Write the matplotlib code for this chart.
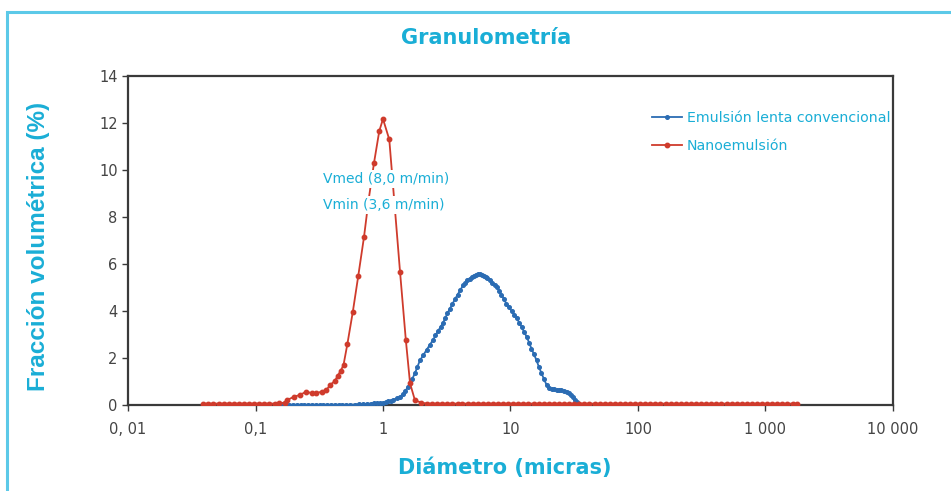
import matplotlib.pyplot as plt
from matplotlib.patches import Rectangle
import matplotlib.ticker as ticker

cyan = "#1aaed6"
blue = "#2b6cb3"
red = "#cf3b2c"

# Nanoemulsion (red)
nano_x = [0.039, 0.0427, 0.0468, 0.0513, 0.0563, 0.0617, 0.0676, 0.0741, 0.0812, 0.089,
          0.0976, 0.107, 0.117, 0.128, 0.141, 0.154,
          0.169, 0.176, 0.20, 0.224, 0.25, 0.276, 0.30, 0.33, 0.36, 0.385, 0.42, 0.44,
          0.465, 0.49, 0.525, 0.58, 0.64, 0.71, 0.77, 0.85, 0.935, 1.0, 1.12, 1.36,
          1.51, 1.63, 1.78, 2.0,
          2.21, 2.42, 2.66, 2.91, 3.19, 3.50, 3.84, 4.20, 4.61, 5.05, 5.54, 6.07, 6.65,
          7.29, 7.99, 8.76, 9.60, 10.5, 11.5, 12.6, 13.8, 15.2, 16.6, 18.2, 20.0, 21.9,
          24.0, 26.3, 28.8, 31.6, 34.6, 37.9, 41.6, 45.6, 50.0, 54.8, 60.0, 65.8, 72.1,
          79.0, 86.6, 94.9, 104, 114, 125, 137, 150, 165, 180, 198, 217, 237, 260, 285,
          313, 343, 376, 412, 451, 495, 542, 594, 651, 714, 782, 857, 940, 1030, 1130,
          1240, 1350, 1480, 1630, 1780]
nano_y = [0.06, 0.06, 0.06, 0.06, 0.06, 0.06, 0.06, 0.06, 0.06, 0.06,
          0.06, 0.06, 0.06, 0.06, 0.06, 0.07,
          0.1, 0.2, 0.35, 0.43, 0.57, 0.5, 0.5, 0.57, 0.64, 0.85, 1.03, 1.23,
          1.45, 1.7, 2.58, 3.97, 5.5, 7.16, 8.7, 10.3, 11.66, 12.17, 11.3, 5.67,
          2.77, 0.92, 0.2, 0.1,
          0.06, 0.06, 0.06, 0.06, 0.06, 0.06, 0.06, 0.06, 0.06, 0.06, 0.06, 0.06, 0.06,
          0.06, 0.06, 0.06, 0.06, 0.06, 0.06, 0.06, 0.06, 0.06, 0.06, 0.06, 0.06, 0.06,
          0.06, 0.06, 0.06, 0.06, 0.06, 0.06, 0.06, 0.06, 0.06, 0.06, 0.06, 0.06, 0.06,
          0.06, 0.06, 0.06, 0.06, 0.06, 0.06, 0.06, 0.06, 0.06, 0.06, 0.06, 0.06, 0.06, 0.06, 0.06,
          0.06, 0.06, 0.06, 0.06, 0.06, 0.06, 0.06, 0.06, 0.06, 0.06, 0.06, 0.06, 0.06, 0.06, 0.06,
          0.06, 0.06, 0.06, 0.06, 0.06]

# Conventional slow emulsion (blue)
conv_x = [0.16, 0.172, 0.184, 0.197, 0.211, 0.226, 0.242, 0.259, 0.277, 0.297, 0.318,
          0.34, 0.364, 0.39, 0.418, 0.448, 0.48, 0.514, 0.55, 0.6, 0.65, 0.7, 0.75, 0.8,
          0.85, 0.9, 0.95, 1.0, 1.05, 1.1, 1.15, 1.2, 1.28, 1.36, 1.43, 1.5, 1.56, 1.63,
          1.7, 1.78, 1.86, 1.95, 2.07, 2.2, 2.33, 2.47, 2.58, 2.7, 2.83, 2.96, 3.08, 3.2,
          3.35, 3.5, 3.67, 3.85, 4.05, 4.25, 4.42, 4.6, 4.8, 5.0, 5.17, 5.35, 5.55, 5.75,
          5.97, 6.2, 6.4, 6.6, 6.9, 7.2, 7.5, 7.8, 8.15, 8.5, 8.9, 9.3, 9.75, 10.2, 10.7,
          11.2, 11.7, 12.3, 12.8, 13.4, 14.0, 14.6, 15.3, 16.0, 16.7, 17.5, 18.3, 19.2,
          20.1, 21.0, 22.0, 23.0, 24.0, 25.0, 26.2, 27.5, 28.7, 30.0, 31.0, 32.0, 33.0, 34.0]
conv_y = [0.01, 0.01, 0.01, 0.01, 0.01, 0.01, 0.01, 0.01, 0.01, 0.01, 0.01,
          0.01, 0.01, 0.01, 0.01, 0.01, 0.01, 0.01, 0.01, 0.02, 0.03, 0.04, 0.05, 0.06,
          0.07, 0.08, 0.09, 0.1, 0.12, 0.15, 0.18, 0.22, 0.28, 0.35, 0.46, 0.6, 0.75, 0.92,
          1.12, 1.35, 1.62, 1.9, 2.12, 2.35, 2.56, 2.77, 2.96, 3.15, 3.32, 3.5, 3.7, 3.9,
          4.1, 4.3, 4.5, 4.7, 4.9, 5.1, 5.2, 5.3, 5.38, 5.46, 5.51, 5.55, 5.57, 5.57,
          5.54, 5.5, 5.45, 5.4, 5.3, 5.2, 5.12, 5.03, 4.87, 4.7, 4.5, 4.3, 4.15, 4.0, 3.85,
          3.7, 3.5, 3.3, 3.1, 2.9, 2.65, 2.4, 2.15, 1.9, 1.62, 1.35, 1.1, 0.85,
          0.74, 0.68, 0.66, 0.64, 0.63, 0.62, 0.6, 0.57, 0.52, 0.42, 0.33, 0.2, 0.12, 0.05]

x_ticks = [0.01, 0.1, 1, 10, 100, 1000, 10000]
x_ticklabels = ["0, 01", "0,1", "1", "10", "100", "1 000", "10 000"]
y_ticks = [0, 2, 4, 6, 8, 10, 12, 14]

fig = plt.figure(figsize=(9.51, 4.91), dpi=100)
ax = fig.add_axes([0.1346, 0.1752, 0.8044, 0.6700])

ax.plot(conv_x, conv_y, "-o", color=blue, lw=1.3, markersize=2.6,
        label="Emulsión lenta convencional", zorder=3)
ax.plot(nano_x, nano_y, "-o", color=red, lw=1.3, markersize=3.2,
        label="Nanoemulsión", zorder=4)

ax.set_xscale("log")
ax.set_xlim(0.01, 10000)
ax.set_ylim(0, 14)
ax.set_xticks(x_ticks)
ax.set_xticklabels(x_ticklabels)
ax.xaxis.set_minor_locator(ticker.NullLocator())
ax.set_yticks(y_ticks)

for s in ax.spines.values():
    s.set_color("#3a3a3a")
    s.set_linewidth(1.6)
ax.tick_params(axis="both", colors="#3a3a3a", labelcolor="#444444",
               labelsize=10.5, length=4, width=1)
ax.tick_params(axis="x", pad=8)

ax.text(0.34, 9.6, "Vmed (8,0 m/min)", color=cyan, fontsize=10, zorder=6, va="center",
        bbox=dict(facecolor="white", edgecolor="none", pad=1.5))
ax.text(0.34, 8.5, "Vmin (3,6 m/min)", color=cyan, fontsize=10, zorder=6, va="center",
        bbox=dict(facecolor="white", edgecolor="none", pad=1.5))

leg = ax.legend(loc="upper left", bbox_to_anchor=(0.676, 0.915), frameon=False,
                fontsize=10.2, handlelength=2.1, handletextpad=0.35, labelspacing=0.95,
                borderpad=0)
for t in leg.get_texts():
    t.set_color(cyan)

fig.text(0.511, 0.922, "Granulometría", color=cyan, fontsize=15, fontweight="bold",
         ha="center", va="center", family=["Liberation Sans Narrow", "DejaVu Sans"])
fig.text(0.040, 0.498, "Fracción volumétrica (%)", color=cyan, fontsize=17.5,
         fontweight="bold", rotation=90, ha="center", va="center",
         family=["Liberation Sans", "DejaVu Sans"])
fig.text(0.531, 0.048, "Diámetro (micras)", color=cyan, fontsize=15, fontweight="bold",
         ha="center", va="center", family=["Liberation Sans Narrow", "DejaVu Sans"])

fig.patches.append(Rectangle((0.007, -0.1), 1.2, 1.075, transform=fig.transFigure,
                             fill=False, edgecolor="#5cc9e8", lw=2.2))

fig.savefig("out.png", dpi=100)
